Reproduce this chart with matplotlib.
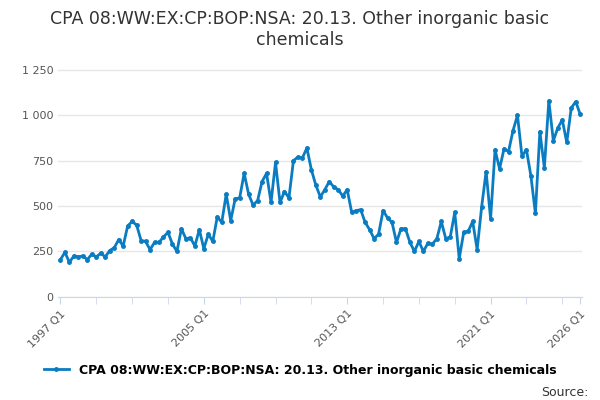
import matplotlib
matplotlib.use("Agg")
import matplotlib.pyplot as plt
import numpy as np

values = [205,245,190,225,220,225,205,235,220,240,220,255,270,315,280,390,415,395,310,305,260,300,300,330,355,290,250,375,320,325,280,370,265,345,305,440,410,565,420,540,545,680,565,505,530,635,680,520,740,520,580,545,750,770,765,820,700,615,550,590,635,605,590,555,590,465,475,480,410,370,320,345,475,435,410,300,375,375,300,250,305,250,295,290,320,415,320,330,465,210,355,360,415,260,495,690,430,810,705,815,800,915,1000,775,810,665,460,910,710,1080,860,930,975,850,1040,1075,1005]
tick_labels = ["1997 Q1","2005 Q1","2013 Q1","2021 Q1","2026 Q1"]
tick_pos = [0,32,64,96,116]
title = "CPA 08:WW:EX:CP:BOP:NSA: 20.13. Other inorganic basic\nchemicals"
series = "CPA 08:WW:EX:CP:BOP:NSA: 20.13. Other inorganic basic chemicals"

fig = plt.figure(figsize=(6,4), dpi=100)
ax = fig.add_axes([0.097, 0.258, 0.873, 0.59])
x = np.arange(len(values))
ax.plot(x, values, color="#0a7cc1", lw=2, marker="o", ms=2.5, label=series)
ax.set_xlim(-0.5, len(values)-0.6)
ax.set_ylim(0, 1300)
ax.set_yticks([0,250,500,750,1000,1250])
ax.set_yticklabels(["0","250","500","750","1 000","1 250"], fontsize=8, color="#555")
ax.set_xticks(tick_pos)
ax.set_xticklabels(tick_labels, rotation=45, ha="right", rotation_mode="anchor", fontsize=8, color="#555")
ax.set_xticks(np.arange(0,117,8), minor=True)
ax.tick_params(axis="x", which="both", length=5, color="#ccd6eb")
ax.tick_params(axis="y", length=0)
ax.grid(axis="y", color="#e6e6e6", lw=1)
for s in ["top","right","left"]:
    ax.spines[s].set_visible(False)
ax.spines["bottom"].set_color("#ccd6eb")
fig.suptitle(title, fontsize=12.5, color="#333", y=0.975)
fig.legend(loc="lower center", bbox_to_anchor=(0.5,0.03), frameon=False, fontsize=9,
           prop={"weight":"bold","size":9})
fig.text(0.98, 0.01, "Source:", ha="right", fontsize=9, color="#333")
fig.savefig("out.png")
